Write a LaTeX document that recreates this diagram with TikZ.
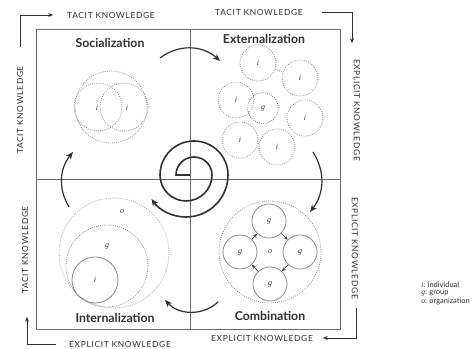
\documentclass[tikz,border=0pt]{standalone}
\usepackage{fontspec}
\setmainfont{Lato}
\newfontfamily\serifit{Liberation Serif}
\usetikzlibrary{arrows.meta}
\definecolor{ink}{HTML}{303030}
\definecolor{cgray}{HTML}{8C8C8C}
\definecolor{fgray}{HTML}{6A6A6A}
\begin{document}
\begin{tikzpicture}[x=0.75pt,y=0.75pt,
  kn/.style={font=\fontsize{6.3}{7}\selectfont\addfontfeature{LetterSpace=8}, text=ink, inner sep=0},
  ttl/.style={font=\fontsize{9.2}{10}\selectfont\bfseries, text=ink, inner sep=0},
  lbl/.style={font=\serifit\itshape\fontsize{6}{6}\selectfont, text=ink, inner sep=0},
  legend/.style={font=\fontsize{5.6}{6}\selectfont, text=ink, inner sep=0, anchor=west},
  dcirc/.style={circle, draw=cgray, densely dotted, line width=0.6pt, inner sep=0,
                font=\serifit\itshape\fontsize{6}{6}\selectfont, text=ink},
  scirc/.style={circle, draw=cgray, line width=0.6pt, inner sep=0,
                font=\serifit\itshape\fontsize{6}{6}\selectfont, text=ink},
  outer/.style={-{Stealth[length=3.5pt,width=3pt]}, line width=0.6pt, draw=ink},
  cyc/.style={-{Stealth[length=5.5pt,width=4.5pt]}, line width=0.9pt, draw=ink},
  carr/.style={-{Stealth[length=3pt,width=2.5pt]}, line width=0.5pt, draw=ink},
  frameline/.style={draw=fgray, line width=0.6pt},
  divline/.style={draw=fgray, line width=0.7pt},
  spiralline/.style={-{Stealth[length=5pt,width=4.5pt]}, draw=ink, line width=1.2pt}
]
\fill[white] (0,0) rectangle (476,349);
\useasboundingbox (0,0) rectangle (476,349);

% frame and dividers
\draw[frameline] (36,20) rectangle (340,320);
\draw[divline] (190,20) -- (190,320);
\draw[divline] (36,170) -- (340,170);

% quadrant titles
\node[ttl] (tS) at (110,306) {Socialization};
\node[ttl] (tE) at (264,310) {Externalization};
\node[ttl] (tI) at (115,31) {Internalization};
\node[ttl] (tC) at (270,33) {Combination};

% outer knowledge labels
\node[kn] (kTL) at (111,334) {TACIT KNOWLEDGE};
\node[kn] (kTR) at (259,337) {TACIT KNOWLEDGE};
\node[kn, rotate=-90] (kRU) at (357,239) {EXPLICIT KNOWLEDGE};
\node[kn, rotate=-90] (kRL) at (355,101) {EXPLICIT KNOWLEDGE};
\node[kn] (kBR) at (262,11) {EXPLICIT KNOWLEDGE};
\node[kn] (kBL) at (120,5) {EXPLICIT KNOWLEDGE};
\node[kn, rotate=90] (kLU) at (20,239) {TACIT KNOWLEDGE};
\node[kn, rotate=90] (kLL) at (25,99) {TACIT KNOWLEDGE};

% outer arrows
\coordinate (tl0) at (20,302); \coordinate (tl1) at (20,334); \coordinate (tl2) at (53,334);
\draw[outer] (tl0) -- (tl1) -- (tl2);
\coordinate (tr0) at (322,337); \coordinate (tr1) at (352,337); \coordinate (tr2) at (352,306);
\draw[outer] (tr0) -- (tr1) -- (tr2);
\coordinate (br0) at (356,41); \coordinate (br1) at (356,11); \coordinate (br2) at (323,11);
\draw[outer] (br0) -- (br1) -- (br2);
\coordinate (bl0) at (56,5); \coordinate (bl1) at (27,5); \coordinate (bl2) at (27,32);
\draw[outer] (bl0) -- (bl1) -- (bl2);

% Socialization
\node[dcirc, minimum size=54pt] (sO) at (111,242) {};
\node[dcirc, minimum size=36pt] (sA) at (98,242) {};
\node[dcirc, minimum size=36pt] (sB) at (124,242) {};
\node[lbl] (sAl) at (97,241) {i};
\node[lbl] (sBl) at (127,241) {i};

% Externalization
\node[dcirc, minimum size=23pt, draw=fgray] (eg) at (263,241) {g};
\node[dcirc, minimum size=27pt] (e1) at (258,286) {i};
\node[dcirc, minimum size=27pt] (e2) at (300,271) {i};
\node[dcirc, minimum size=27pt] (e3) at (305,231) {i};
\node[dcirc, minimum size=27pt] (e4) at (277,202) {i};
\node[dcirc, minimum size=27pt] (e5) at (240,209) {i};
\node[dcirc, minimum size=27pt] (e6) at (236,249) {i};
\draw[densely dotted, draw=cgray, line width=0.6pt] (e1) -- (e2);
\draw[densely dotted, draw=cgray, line width=0.6pt] (e5) -- (e4);

% Combination
\node[dcirc, minimum size=76.5pt] (cO) at (270,97) {};
\node[lbl] (cOl) at (270,97) {o};
\node[scirc, minimum size=25.5pt] (cT) at (269,128) {g};
\node[scirc, minimum size=25.5pt] (cR) at (300,97) {g};
\node[scirc, minimum size=25.5pt] (cB) at (270,65) {g};
\node[scirc, minimum size=25.5pt] (cL) at (240,97) {g};
\draw[carr] (cT) -- (cR);
\draw[carr] (cR) -- (cB);
\draw[carr] (cB) -- (cL);
\draw[carr] (cL) -- (cT);

% Internalization
\node[dcirc, minimum size=82.5pt, draw=cgray!80] (iO) at (114,96) {};
\node[dcirc, minimum size=61.5pt] (iG) at (107,83) {};
\node[scirc, minimum size=34.5pt] (iI) at (95,69) {i};
\node[lbl] (iOl) at (122,137) {o};
\node[lbl] (iGl) at (107,103) {g};

% cycle arrows
\coordinate (a1s) at (160,291); \coordinate (a1e) at (220,288);
\draw[cyc] (a1s) to[bend left=40] (a1e);
\coordinate (a2s) at (313,197); \coordinate (a2e) at (310,137);
\draw[cyc] (a2s) to[bend left=35] (a2e);
\coordinate (a3s) at (218,47); \coordinate (a3e) at (165,49);
\draw[cyc] (a3s) to[bend left=45] (a3e);
\coordinate (a4s) at (69,142); \coordinate (a4e) at (73,197);
\draw[cyc] (a4s) to[bend left=35] (a4e);

% spiral
\coordinate (sp0) at (190,174);
\draw[spiralline] (sp0) -- (176,174)
  arc[start angle=180, end angle=0, radius=18]
  arc[start angle=0, end angle=-180, radius=26]
  arc[start angle=180, end angle=0, radius=34]
  arc[start angle=0, end angle=-145, radius=42];

% legend
\node[legend] (l1) at (421,64) {{\serifit\itshape i}: individual};
\node[legend] (l2) at (421,56) {{\serifit\itshape g}: group};
\node[legend] (l3) at (421,48) {{\serifit\itshape o}: organization};
\end{tikzpicture}
\end{document}
